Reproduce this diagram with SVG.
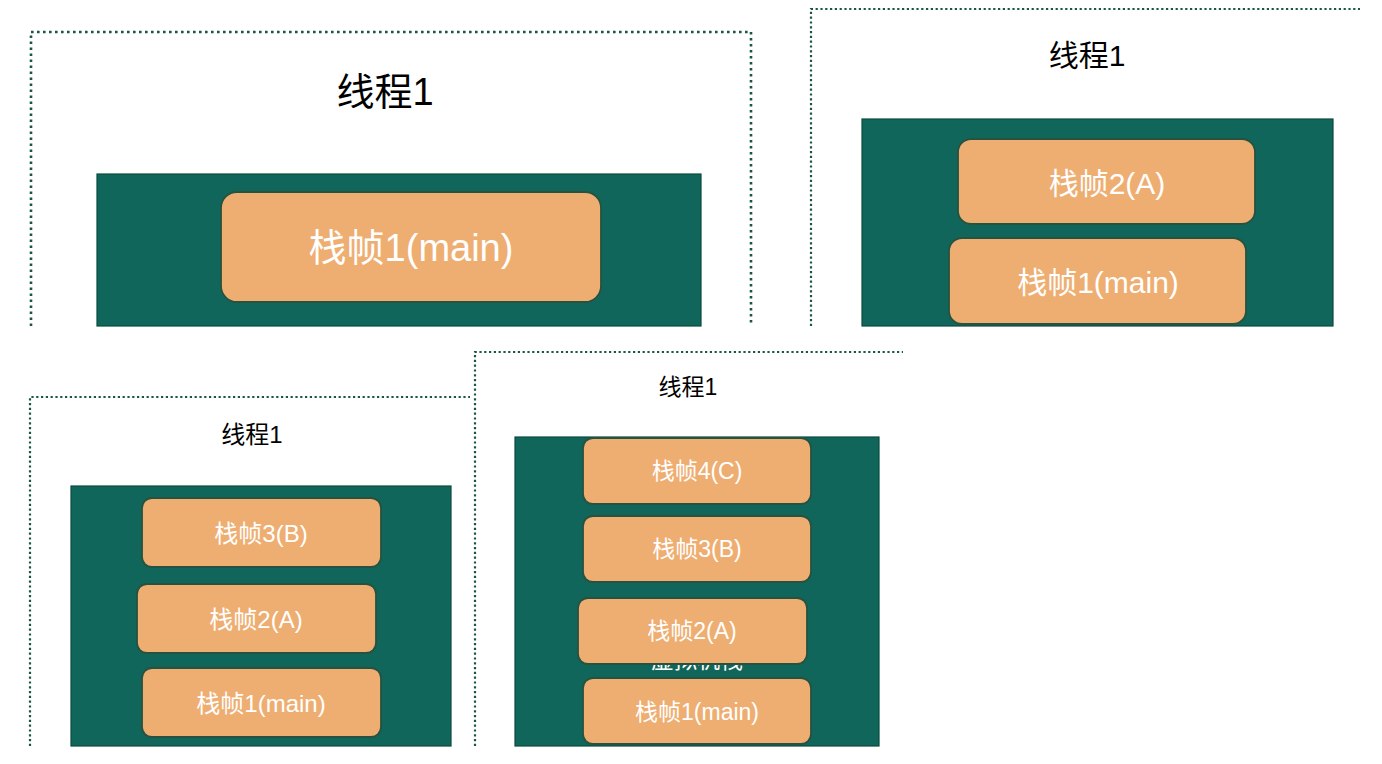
<svg xmlns="http://www.w3.org/2000/svg" width="1382" height="764" viewBox="0 0 1382 764">
<style>
.dot{fill:none;stroke:#1a5646;stroke-width:2.6;stroke-dasharray:2.6 3.4}
.dot2{fill:none;stroke:#1a5646;stroke-width:2.2;stroke-dasharray:2.2 2.6}
.stack{fill:#10665A;stroke:#0b4b3f;stroke-width:1.2}
.frame{fill:#EEAE72;stroke:#27523f;stroke-width:1.8}
.ft{fill:#ffffff;font-family:"Liberation Sans","Noto Sans CJK SC",sans-serif;text-anchor:middle;dominant-baseline:central}
.tt{fill:#000000;font-family:"Liberation Sans","Noto Sans CJK SC",sans-serif;text-anchor:middle;dominant-baseline:central}
</style>
<rect width="1382" height="764" fill="#ffffff"/>
<g id="panel1">
<path class="dot" d="M31,326 V32 H751 V326"/>
<text class="tt" x="385" y="92" font-size="38">线程1</text>
<rect class="stack" x="97" y="174" width="604" height="152"/>
<g id="p1-frame1"><rect class="frame" x="221" y="192" width="380" height="110" rx="16"/><text class="ft" x="411" y="248" font-size="38">栈帧1(main)</text></g>
</g>
<g id="panel2">
<path class="dot2" d="M811,326 V9 H1360"/>
<text class="tt" x="1087" y="55" font-size="30">线程1</text>
<rect class="stack" x="862" y="119" width="471" height="207"/>
<g id="p2-frame2"><rect class="frame" x="958" y="139" width="297" height="85" rx="13"/><text class="ft" x="1107" y="183" font-size="30">栈帧2(A)</text></g>
<g id="p2-frame1"><rect class="frame" x="949" y="238" width="297" height="86" rx="13"/><text class="ft" x="1098" y="282" font-size="30">栈帧1(main)</text></g>
</g>
<g id="panel3">
<path class="dot2" d="M30,746 V397 H470"/>
<text class="tt" x="252" y="434" font-size="24">线程1</text>
<rect class="stack" x="71" y="486" width="380" height="260"/>
<g id="p3-frame3"><rect class="frame" x="142" y="498" width="239" height="69" rx="10"/><text class="ft" x="261" y="533" font-size="24">栈帧3(B)</text></g>
<g id="p3-frame2"><rect class="frame" x="137" y="584" width="239" height="69" rx="10"/><text class="ft" x="256" y="619" font-size="24">栈帧2(A)</text></g>
<g id="p3-frame1"><rect class="frame" x="142" y="668" width="239" height="69" rx="10"/><text class="ft" x="261" y="703" font-size="24">栈帧1(main)</text></g>
</g>
<g id="panel4">
<path class="dot2" d="M475,746 V352 H903"/>
<text class="tt" x="688" y="387" font-size="23">线程1</text>
<rect class="stack" x="515" y="437" width="364" height="309"/>
<text class="ft" x="697" y="660" font-size="23">虚拟机栈</text>
<g id="p4-frame4"><rect class="frame" x="583" y="438" width="228" height="66" rx="10"/><text class="ft" x="697" y="471" font-size="23">栈帧4(C)</text></g>
<g id="p4-frame3"><rect class="frame" x="583" y="516" width="228" height="66" rx="10"/><text class="ft" x="697" y="549" font-size="23">栈帧3(B)</text></g>
<g id="p4-frame2"><rect class="frame" x="578" y="598" width="229" height="66" rx="10"/><text class="ft" x="692" y="631" font-size="23">栈帧2(A)</text></g>
<g id="p4-frame1"><rect class="frame" x="583" y="678" width="228" height="66" rx="10"/><text class="ft" x="697" y="712" font-size="23">栈帧1(main)</text></g>
</g>
<g id="connectors"/>
</svg>
